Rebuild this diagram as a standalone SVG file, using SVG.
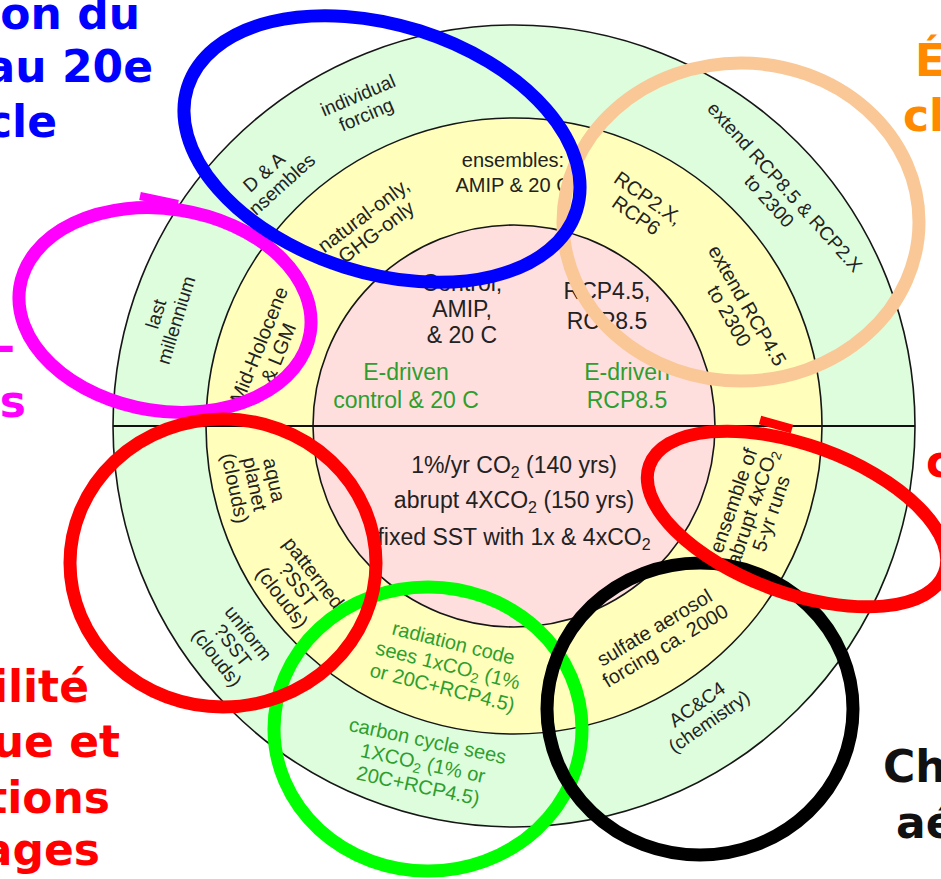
<svg xmlns="http://www.w3.org/2000/svg" width="941" height="879" viewBox="0 0 941 879">
  <style>
    .ring { stroke: #161616; stroke-width: 1.6; }
    .t { font-family: "Liberation Sans", Arial, sans-serif; fill: #222; text-anchor: middle; }
    .s19 { font-size: 19px; }
    .s20 { font-size: 20px; }
    .s23 { font-size: 23px; }
    .gr { fill: #2e9e2e; }
    .hand { fill: none; stroke-width: 13; }
    .big { font-family: "DejaVu Sans", Verdana, sans-serif; font-weight: 700; font-size: 44px; }
    .end { text-anchor: end; }
  </style>

  <rect width="941" height="879" fill="#ffffff"/>

  <!-- concentric experiment rings -->
  <g id="rings">
    <circle class="ring" cx="514" cy="426" r="401" fill="#ddfddd"/>
    <circle class="ring" cx="514" cy="426" r="308" fill="#ffffbb"/>
    <circle class="ring" cx="514" cy="426" r="201" fill="#ffdede"/>
    <line x1="113" y1="426" x2="915" y2="426" stroke="#111" stroke-width="2"/>
  </g>

  <!-- outer ring labels -->
  <g id="lbl-dna" class="t s19" transform="translate(271 180) rotate(-42)">
    <text x="0" y="-4">D &amp; A</text>
    <text x="0" y="17">ensembles</text>
  </g>
  <g id="lbl-individual" class="t s19" transform="translate(362 105) rotate(-23)">
    <text x="0" y="-4">individual</text>
    <text x="0" y="17">forcing</text>
  </g>
  <g id="lbl-lastmil" class="t s19" transform="translate(166 317) rotate(-73)">
    <text x="0" y="-4">last</text>
    <text x="0" y="17">millennium</text>
  </g>
  <g id="lbl-ext85" class="t s19" transform="translate(777 194) rotate(48)">
    <text x="0" y="-4">extend RCP8.5 &amp; RCP2.X</text>
    <text x="0" y="17">to 2300</text>
  </g>
  <g id="lbl-uniform" class="t s19" transform="translate(233 645) rotate(52)">
    <text x="0" y="-13">uniform</text>
    <text x="0" y="7">?SST</text>
    <text x="0" y="27">(clouds)</text>
  </g>
  <g id="lbl-carbon" class="t s20 gr" transform="translate(423 763) rotate(12)">
    <text x="0" y="-16">carbon cycle sees</text>
    <text x="0" y="7">1XCO<tspan font-size="14" dy="4">2</tspan><tspan dy="-4"> (1% or</tspan></text>
    <text x="0" y="30">20C+RCP4.5)</text>
  </g>
  <g id="lbl-ac" class="t s19" transform="translate(703 713) rotate(-35)">
    <text x="0" y="-4">AC&amp;C4</text>
    <text x="0" y="17">(chemistry)</text>
  </g>

  <!-- middle ring labels -->
  <g id="lbl-natural" class="t s20" transform="translate(370 224) rotate(-37)">
    <text x="0" y="-4">natural-only,</text>
    <text x="0" y="17">GHG-only</text>
  </g>
  <g id="lbl-ensembles" class="t s20">
    <text x="513" y="167">ensembles:</text>
    <text x="513" y="192">AMIP &amp; 20 C</text>
  </g>
  <g id="lbl-rcp2x" class="t s20" transform="translate(642 207) rotate(35)">
    <text x="0" y="-4">RCP2.X,</text>
    <text x="0" y="17">RCP6</text>
  </g>
  <g id="lbl-ext45" class="t s20" transform="translate(738 311) rotate(60)">
    <text x="0" y="-4">extend RCP4.5</text>
    <text x="0" y="17">to 2300</text>
  </g>
  <g id="lbl-midholo" class="t s20" transform="translate(269 349) rotate(-68)">
    <text x="0" y="-4">Mid-Holocene</text>
    <text x="0" y="17">&amp; LGM</text>
  </g>
  <g id="lbl-aqua" class="t s20" transform="translate(255 484) rotate(78)">
    <text x="0" y="-13">aqua</text>
    <text x="0" y="7">planet</text>
    <text x="0" y="27">(clouds)</text>
  </g>
  <g id="lbl-patterned" class="t s20" transform="translate(298 585) rotate(52)">
    <text x="0" y="-13">patterned</text>
    <text x="0" y="7">?SST</text>
    <text x="0" y="27">(clouds)</text>
  </g>
  <g id="lbl-radiation" class="t s20 gr" transform="translate(448 665) rotate(14)">
    <text x="0" y="-16">radiation code</text>
    <text x="0" y="7">sees 1xCO<tspan font-size="14" dy="4">2</tspan><tspan dy="-4"> (1%</tspan></text>
    <text x="0" y="30">or 20C+RCP4.5)</text>
  </g>
  <g id="lbl-sulfate" class="t s20" transform="translate(660 637) rotate(-31)">
    <text x="0" y="-4">sulfate aerosol</text>
    <text x="0" y="17">forcing ca. 2000</text>
  </g>
  <g id="lbl-abrupt" class="t s20" transform="translate(752 507) rotate(-71)">
    <text x="0" y="-13">ensemble of</text>
    <text x="0" y="7">abrupt 4xCO<tspan font-size="14" dy="4">2</tspan></text>
    <text x="0" y="27">5-yr runs</text>
  </g>

  <!-- core labels -->
  <g id="lbl-control" class="t s23">
    <text x="462" y="291">Control,</text>
    <text x="462" y="317">AMIP,</text>
    <text x="462" y="343">&amp; 20 C</text>
  </g>
  <g id="lbl-rcp" class="t s23">
    <text x="607" y="299">RCP4.5,</text>
    <text x="607" y="329">RCP8.5</text>
  </g>
  <g id="lbl-edriven-a" class="t s23 gr">
    <text x="406" y="380">E-driven</text>
    <text x="406" y="408">control &amp; 20 C</text>
  </g>
  <g id="lbl-edriven-b" class="t s23 gr">
    <text x="627" y="380">E-driven</text>
    <text x="627" y="408">RCP8.5</text>
  </g>
  <g id="lbl-core-low" class="t s23">
    <text x="514" y="473">1%/yr CO<tspan font-size="16" dy="5">2</tspan><tspan dy="-5"> (140 yrs)</tspan></text>
    <text x="514" y="508">abrupt 4XCO<tspan font-size="16" dy="5">2</tspan><tspan dy="-5"> (150 yrs)</tspan></text>
    <text x="514" y="545">fixed SST with 1x &amp; 4xCO<tspan font-size="16" dy="5">2</tspan></text>
  </g>

  <!-- hand-drawn highlight loops -->
  <g id="loops">
    <ellipse id="loop-peach" class="hand" cx="741" cy="222" rx="178" ry="159" stroke="#fac896"/>
    <g id="loop-magenta">
      <ellipse class="hand" cx="165" cy="310" rx="147" ry="101" transform="rotate(9 165 310)" stroke="#ff00ff"/>
      <path d="M140 196 L178 204" stroke="#ff00ff" stroke-width="8" fill="none"/>
    </g>
    <ellipse id="loop-blue" class="hand" cx="382" cy="149" rx="204" ry="124" transform="rotate(17.6 382 149)" stroke="#0000ff"/>
    <ellipse id="loop-green" class="hand" cx="428" cy="729" rx="154" ry="142" stroke="#00ff00"/>
    <ellipse id="loop-black" class="hand" cx="700" cy="709" rx="153" ry="146" stroke="#000000"/>
    <ellipse id="loop-red-left" class="hand" cx="223" cy="563" rx="153" ry="144" stroke="#ff0000"/>
    <g id="loop-red-right">
      <ellipse class="hand" cx="797" cy="519" rx="157" ry="74" transform="rotate(20 797 519)" stroke="#ff0000"/>
      <path d="M760 420 L792 429" stroke="#ff0000" stroke-width="9" fill="none"/>
    </g>
  </g>

  <!-- side captions -->
  <g id="cap-blue" class="big end" fill="#0000ff">
    <text x="140" y="29">on du</text>
    <text x="153" y="82">au 20e</text>
    <text x="57" y="137">cle</text>
  </g>
  <g id="cap-orange" class="big" fill="#ff8a00">
    <text x="915" y="76">É</text>
    <text x="903" y="131">cl</text>
  </g>
  <g id="cap-magenta" class="big end" fill="#ff00ff">
    <text x="15" y="362">-</text>
    <text x="26" y="417">s</text>
  </g>
  <g id="cap-red-left" class="big end" fill="#ff0000">
    <text x="89" y="702">ilité</text>
    <text x="120" y="757">ue et</text>
    <text x="110" y="813">tions</text>
    <text x="100" y="865">ages</text>
  </g>
  <g id="cap-red-right" class="big" fill="#ff0000">
    <text x="926" y="477">c</text>
  </g>
  <g id="cap-black" class="big" fill="#111111">
    <text x="883" y="782">Ch</text>
    <text x="896" y="838">aé</text>
  </g>
</svg>
